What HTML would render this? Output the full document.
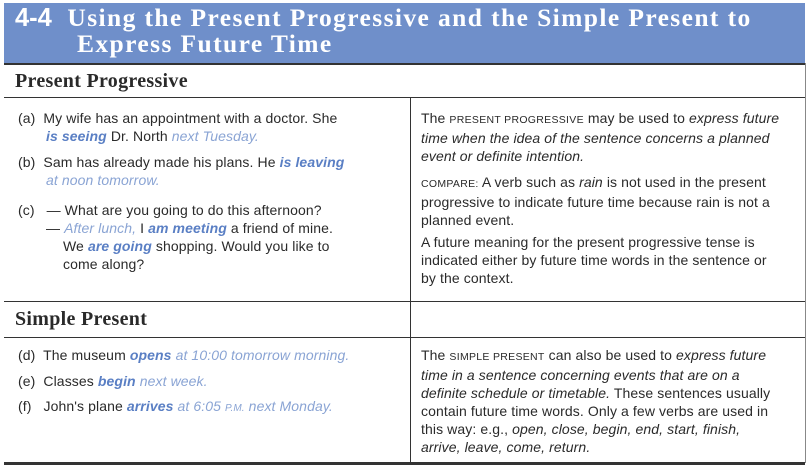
<!DOCTYPE html>
<html><head><style>
body{margin:0;width:810px;height:471px;background:#fff;position:relative;overflow:hidden;font-family:"Liberation Sans",sans-serif;color:#2a2a2a}
.a{position:absolute;white-space:nowrap}
.t{font-size:14px;line-height:18px;letter-spacing:.1px}
.b{color:#5a7fc4;font-weight:bold;font-style:italic}
.i{color:#8aa4d4;font-style:italic}
.sc{font-size:10.5px;letter-spacing:.3px}
.hl{position:absolute;background:#333}
.h{font-family:'Liberation Serif',serif;font-weight:bold;font-size:20px;letter-spacing:.3px}
</style></head><body>
<div class="a" style="left:4px;top:3px;width:801px;height:60px;background:#6f8fca"></div>
<div class="a" style="left:15px;top:5px;color:#fff;font-family:'Liberation Serif',serif;font-weight:bold;font-size:25.5px;line-height:26px;letter-spacing:1.4px"><span style="font-family:'Liberation Sans',sans-serif;letter-spacing:0">4-4</span>&nbsp; Using the Present Progressive and the Simple Present to<br><span style="padding-left:62px"></span>Express Future Time</div>
<div class="hl" style="left:4px;top:63px;width:801px;height:2px"></div>
<div class="a h" style="left:15px;top:70px">Present Progressive</div>
<div class="hl" style="left:4px;top:97px;width:801px;height:1px"></div>
<div class="hl" style="left:410px;top:97px;width:1px;height:366px"></div>
<div class="hl" style="left:805px;top:63px;width:1px;height:400px;background:#888"></div>
<div class="hl" style="left:4px;top:301px;width:801px;height:1px"></div>
<div class="a h" style="left:15px;top:308px">Simple Present</div>
<div class="hl" style="left:4px;top:337px;width:801px;height:1px"></div>
<div class="hl" style="left:4px;top:462px;width:801px;height:3px"></div>

<div class="a t" style="left:18px;top:109px">(a)&nbsp; My wife has an appointment with a doctor. She<br><span style="padding-left:28px"></span><span class="b">is seeing</span> Dr. North <span class="i">next Tuesday.</span></div>
<div class="a t" style="left:18px;top:153px">(b)&nbsp; Sam has already made his plans. He <span class="b">is leaving</span><br><span style="padding-left:28px"></span><span class="i">at noon tomorrow.</span></div>
<div class="a t" style="left:18px;top:201px">(c)&nbsp;&nbsp; — What are you going to do this afternoon?<br><span style="padding-left:28px"></span>— <span class="i">After lunch,</span> I <span class="b">am meeting</span> a friend of mine.<br><span style="padding-left:45px"></span>We <span class="b">are going</span> shopping. Would you like to<br><span style="padding-left:45px"></span>come along?</div>

<div class="a t" style="left:421px;top:109px">The <span class="sc">PRESENT PROGRESSIVE</span> may be used to <i>express future</i><br><i>time when the idea of the sentence concerns a planned</i><br><i>event or definite intention.</i></div>
<div class="a t" style="left:421px;top:173px"><span class="sc">COMPARE:</span> A verb such as <i>rain</i> is not used in the present<br>progressive to indicate future time because rain is not a<br>planned event.</div>
<div class="a t" style="left:421px;top:233px">A future meaning for the present progressive tense is<br>indicated either by future time words in the sentence or<br>by the context.</div>

<div class="a t" style="left:18px;top:346px">(d)&nbsp; The museum <span class="b">opens</span> <span class="i">at 10:00 tomorrow morning.</span></div>
<div class="a t" style="left:18px;top:372px">(e)&nbsp; Classes <span class="b">begin</span> <span class="i">next week.</span></div>
<div class="a t" style="left:18px;top:397px">(f)&nbsp;&nbsp; John's plane <span class="b">arrives</span> <span class="i">at 6:05 <span style="font-size:10px">P.M.</span> next Monday.</span></div>

<div class="a t" style="left:421px;top:346px">The <span class="sc">SIMPLE PRESENT</span> can also be used to <i>express future</i><br><i>time in a sentence concerning events that are on a</i><br><i>definite schedule or timetable.</i> These sentences usually<br>contain future time words. Only a few verbs are used in<br>this way: e.g., <i>open, close, begin, end, start, finish,</i><br><i>arrive, leave, come, return.</i></div>
</body></html>
